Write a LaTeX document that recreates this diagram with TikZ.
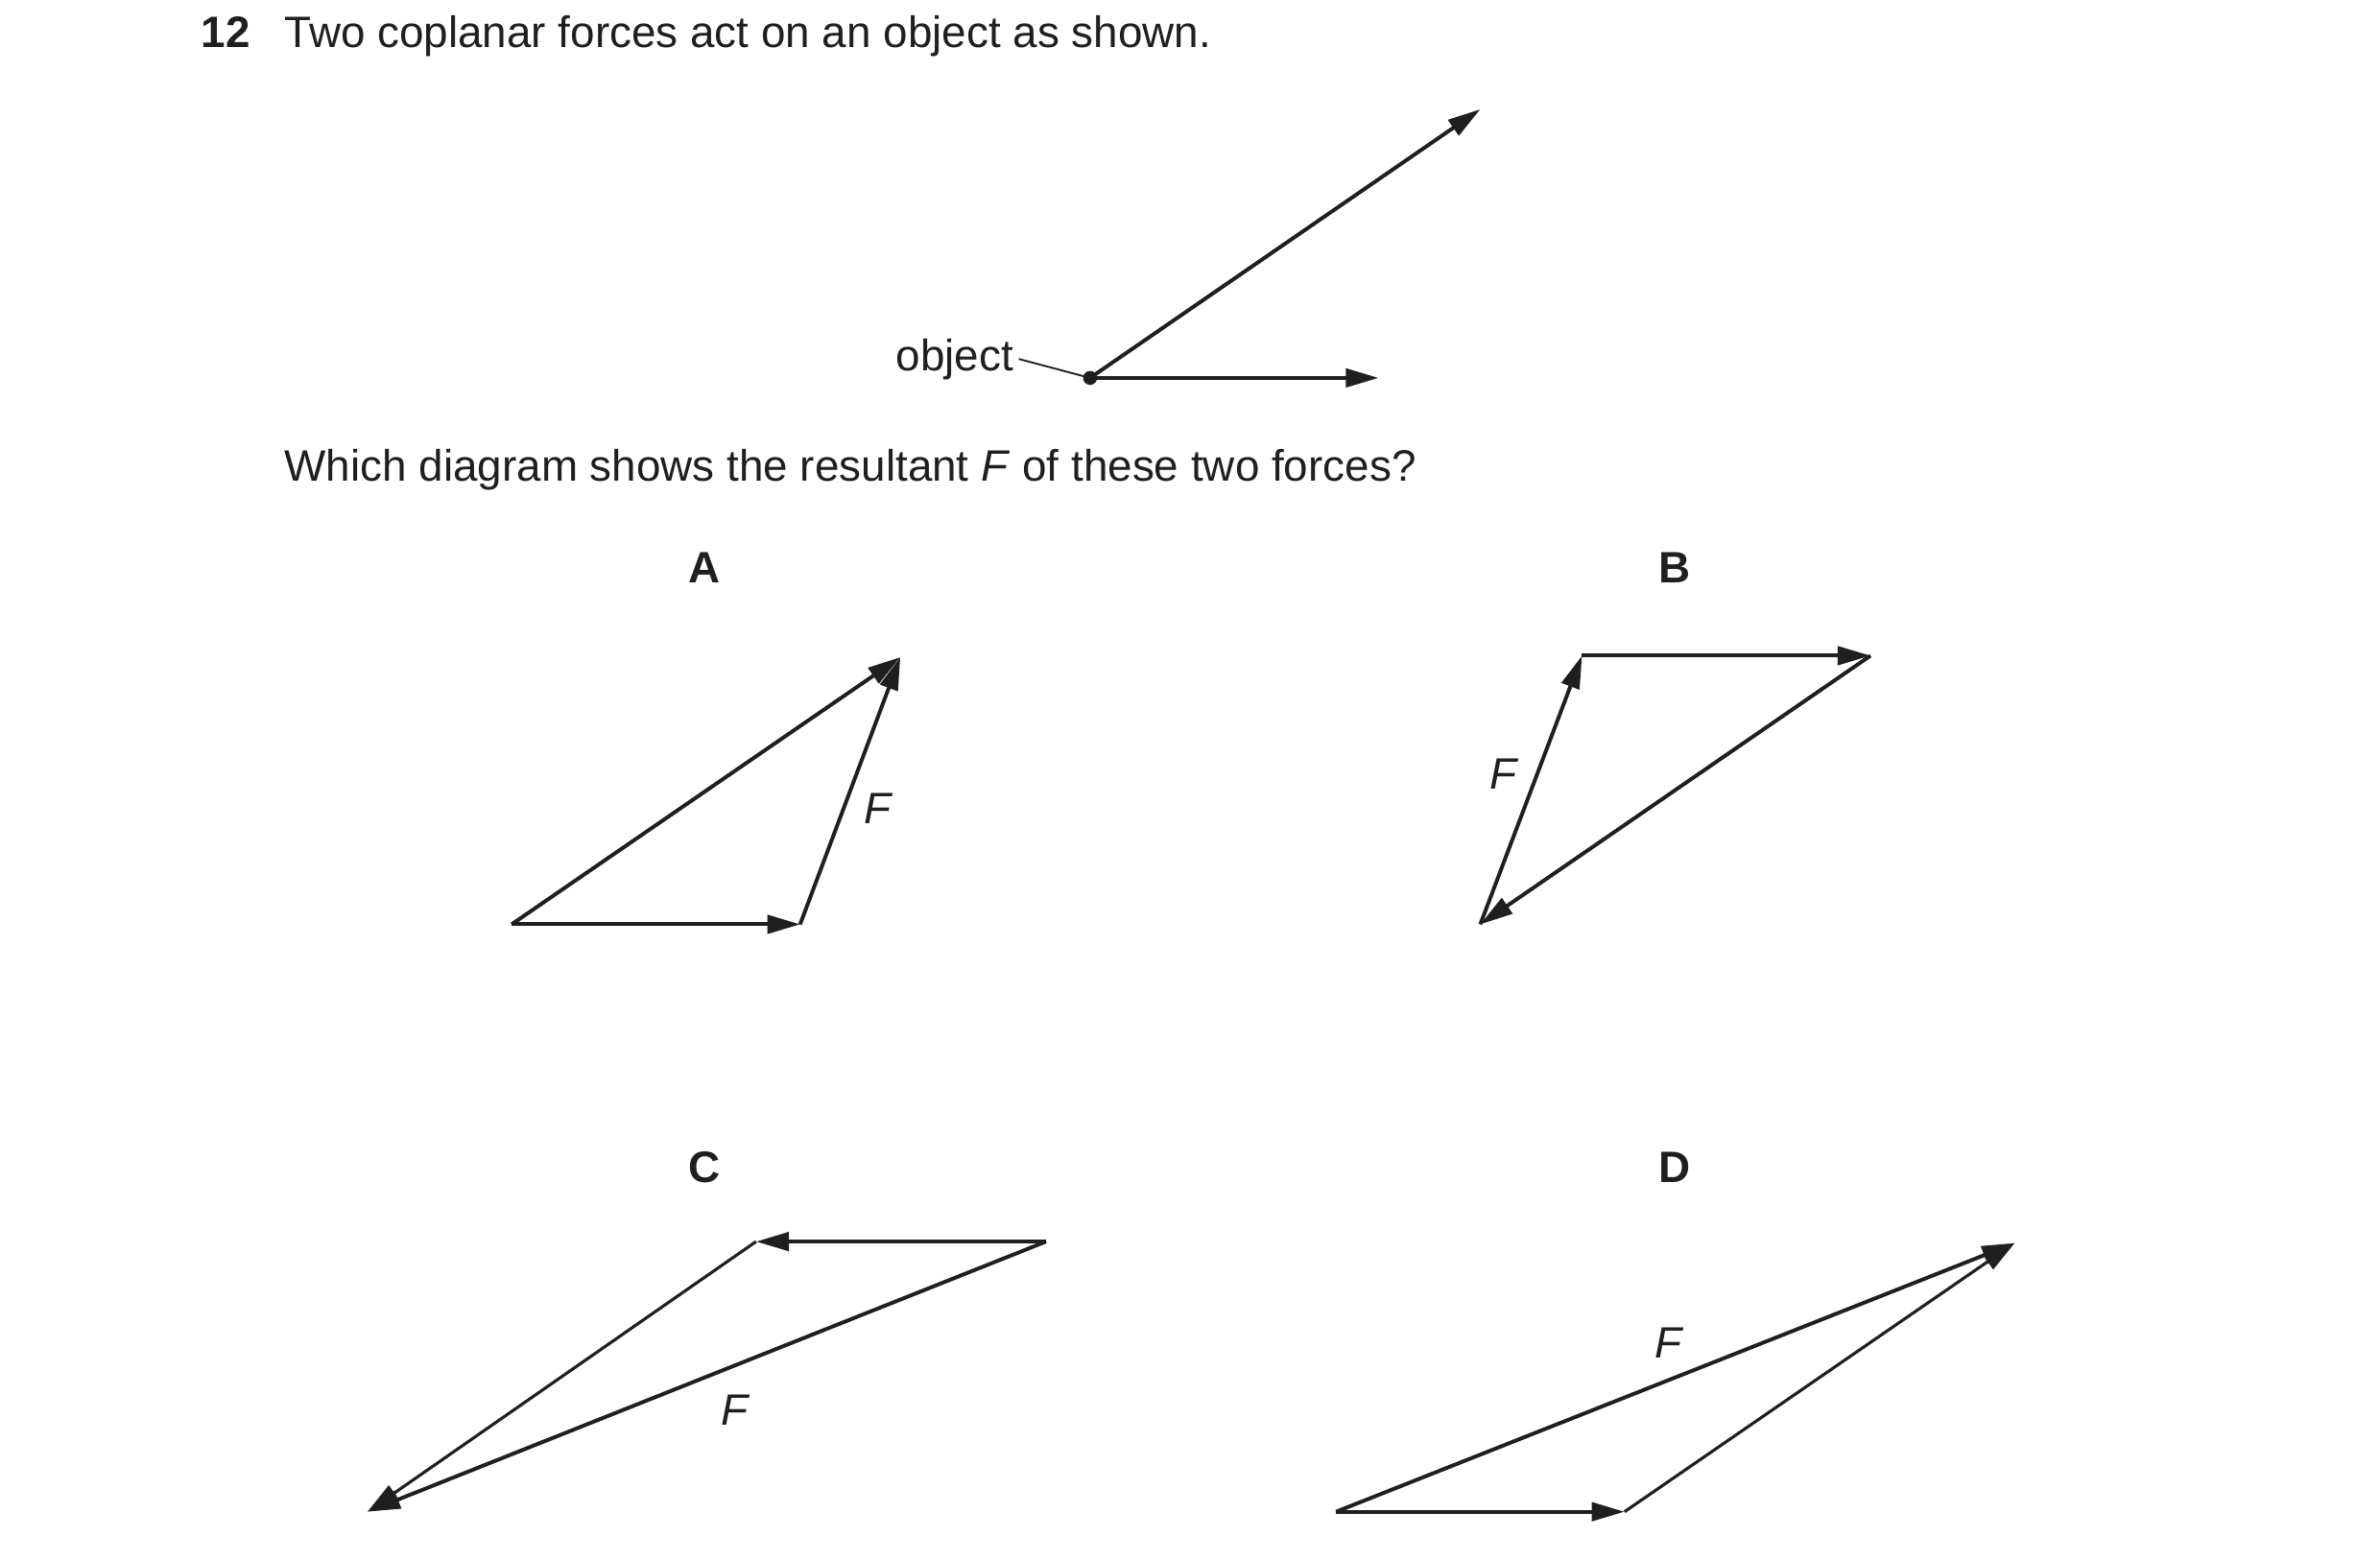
\documentclass[tikz,border=0pt]{standalone}
\usepackage{fontspec}
\setmainfont{Liberation Sans}
\usetikzlibrary{arrows.meta}
\begin{document}
\begin{tikzpicture}[x=0.37975pt, y=-0.37975pt,
  vec/.style={line width=0.95pt, color=black!88, -{Triangle[length=8.2pt,width=4.6pt]}},
  vecthin/.style={vec, line width=0.75pt},
  txt/.style={font=\fontsize{11}{13}\selectfont, inner sep=0pt, text=black!88},
  lbl/.style={txt, font=\fontsize{11}{13}\selectfont\bfseries},
  flab/.style={txt, font=\fontsize{11}{13}\selectfont\itshape}]
\useasboundingbox (0,0) rectangle (1567.6,1027.8);
% heading
\node[lbl, anchor=base west] (num) at (132,31) {12};
\node[txt, anchor=base west] (q1) at (187,31) {Two coplanar forces act on an object as shown.};
% top figure
\node[circle, fill=black!88, inner sep=0pt, minimum size=3.5pt] (obj) at (718,249) {};
\coordinate (tipD) at (975,72);
\coordinate (tipH) at (908,249);
\draw[vec] (obj.center) -- (tipD);
\draw[vec] (obj.center) -- (tipH);
\node[txt, anchor=base east] (objlab) at (668,244) {object};
\draw[line width=0.45pt, color=black!88] (objlab.east) ++(3,0) coordinate (ol) -- (obj.center);
\node[txt, anchor=base west] (q2) at (187,317) {Which diagram shows the resultant \textit{F} of these two forces?};
% option labels
\node[lbl, anchor=base] (lA) at (464,384) {A};
\node[lbl, anchor=base] (lB) at (1103,384) {B};
\node[lbl, anchor=base] (lC) at (464,779) {C};
\node[lbl, anchor=base] (lD) at (1103,779) {D};
% A
\coordinate (a1) at (337,609);
\coordinate (a2) at (527,609);
\coordinate (a3) at (593,433);
\draw[vec] (a1) -- (a2);
\draw[vec] (a1) -- (a3);
\draw[vec] (a2) -- (a3);
\node[flab] (fA) at (578,533) {F};
% B
\coordinate (b1) at (1042,432);
\coordinate (b2) at (1232,432);
\coordinate (b3) at (975,609);
\draw[vec] (b1) -- (b2);
\draw[vec] (b2) -- (b3);
\draw[vec] (b3) -- (b1);
\node[flab] (fB) at (990,510) {F};
% C
\coordinate (c1) at (498,818);
\coordinate (c2) at (689,818);
\coordinate (c3) at (242,996);
\draw[vec] (c2) -- (c1);
\draw[vecthin] (c1) -- (c3);
\draw[vec] (c2) -- (c3);
\node[flab] (fC) at (484,929) {F};
% D
\coordinate (d1) at (880,996);
\coordinate (d2) at (1070,996);
\coordinate (d3) at (1327,819);
\draw[vec] (d1) -- (d2);
\draw[vecthin] (d2) -- (d3);
\draw[vec] (d1) -- (d3);
\node[flab] (fD) at (1099,885) {F};
\end{tikzpicture}
\end{document}
